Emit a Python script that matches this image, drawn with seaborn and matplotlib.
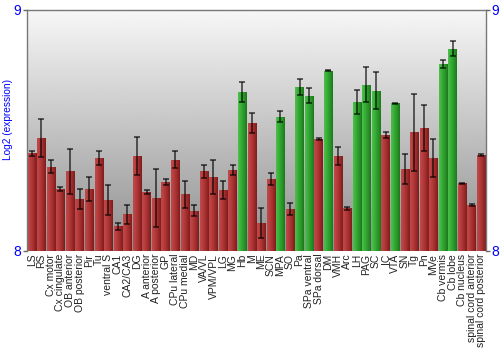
import numpy as np
import pandas as pd
import matplotlib
matplotlib.use("Agg")
import matplotlib.pyplot as plt
import seaborn as sns

regions = ["LS", "RS", "Cx motor", "Cx cingulate", "OB anterior", "OB posterior", "Pir", "Tu",
           "ventral S", "CA1", "CA2/CA3", "DG", "A anterior", "A posterior", "GP", "CPu lateral",
           "CPu medial", "MD", "VA/VL", "VPM/VPL", "LG", "MG", "Hb", "M", "ME", "SCN", "MPA", "SO",
           "Pa", "SPa ventral", "SPa dorsal", "DM", "VMH", "Arc", "LH", "PAG", "SC", "IC", "VTA",
           "SN", "Tg", "Pn", "MVe", "Cb vermis", "Cb lobe", "Cb nucleus", "spinal cord anterior",
           "spinal cord posterior"]
values = [8.404, 8.469, 8.349, 8.256, 8.331, 8.216, 8.257, 8.385,
          8.213, 8.102, 8.152, 8.393, 8.245, 8.219, 8.286, 8.378,
          8.235, 8.167, 8.331, 8.308, 8.253, 8.336, 8.657, 8.530, 8.115, 8.299, 8.556, 8.174,
          8.680, 8.643, 8.462, 8.746, 8.394, 8.176, 8.616, 8.689, 8.664, 8.479, 8.611,
          8.339, 8.491, 8.510, 8.385, 8.773, 8.838, 8.281, 8.190, 8.398]
errors = [0.010, 0.079, 0.026, 0.008, 0.093, 0.041, 0.048, 0.029,
          0.062, 0.015, 0.039, 0.077, 0.009, 0.119, 0.011, 0.035,
          0.055, 0.024, 0.027, 0.070, 0.038, 0.020, 0.041, 0.041, 0.062, 0.026, 0.023, 0.023,
          0.032, 0.032, 0.004, 0.002, 0.037, 0.008, 0.050, 0.073, 0.077, 0.012, 0.003,
          0.063, 0.159, 0.094, 0.077, 0.016, 0.031, 0.002, 0.003, 0.003]
high_regions = ["Hb", "MPA", "Pa", "SPa ventral", "DM", "LH", "PAG", "SC", "VTA", "Cb vermis", "Cb lobe"]
groups = ["high" if r in high_regions else "normal" for r in regions]

df = pd.DataFrame({"region": regions, "value": values, "err": errors, "group": groups})

sns.set_style("white")
plt.rcParams['font.family'] = ['Liberation Sans', 'DejaVu Sans']

fig = plt.figure(figsize=(5, 3.5), dpi=100)
ax = fig.add_axes([27 / 500, 1 - 251 / 350, (486 - 27) / 500, (251 - 9.5) / 350])

palette = {"normal": "#b03535", "high": "#32a532"}
sns.barplot(data=df, x="region", y="value", hue="group", palette=palette, dodge=False,
            width=0.88, legend=False, errorbar=None, ax=ax, order=regions, saturation=1,
            linewidth=0)

ax.set_ylim(8, 9)
ax.set_xlim(-0.5, len(regions) - 0.5)

# background gradient
bg = np.linspace(0.56, 0.97, 256).reshape(-1, 1)
ax.imshow(bg, cmap="gray", vmin=0, vmax=1, aspect="auto", extent=[0, 1, 0, 1],
          transform=ax.transAxes, zorder=0, origin="lower")

# bar gradients
red_cmap = matplotlib.colors.LinearSegmentedColormap.from_list(
    "r", ["#c24a4a", "#b53c3c", "#a02c2c", "#7d1c1c"])
green_cmap = matplotlib.colors.LinearSegmentedColormap.from_list(
    "g", ["#4cc24c", "#38ae38", "#2a962a", "#1c781c"])
grad = np.linspace(0, 1, 64).reshape(1, -1)
for patch in list(ax.patches):
    x0, y0 = patch.get_x(), patch.get_y()
    w, h = patch.get_width(), patch.get_height()
    if not np.isfinite(h) or h == 0:
        continue
    idx = int(round(x0 + w / 2))
    cm = green_cmap if groups[idx] == "high" else red_cmap
    im = ax.imshow(grad, cmap=cm, aspect="auto", extent=[x0, x0 + w, 8, y0 + h],
                   zorder=2, interpolation="bilinear")
    im.set_clip_path(patch)
    patch.set_zorder(1.5)

ax.set_ylim(8, 9)
ax.set_xlim(-0.5, len(regions) - 0.5)

xs = np.arange(len(regions))
ax.errorbar(xs, df["value"], yerr=df["err"], fmt="none", ecolor="black", elinewidth=1.1,
            capsize=2.5, capthick=1.1, alpha=0.75, zorder=3)

ax.set_xlabel("")
ax.set_ylabel("")
fig.text(8.5 / 500, 1 - 120 / 350, "Log2 (expression)", rotation=90, color="blue",
         fontsize=7.3, ha="center", va="center")
ax.set_yticks([8, 9])
ax.set_yticklabels(["8", "9"], color="blue", fontsize=10)
ax.tick_params(axis="y", which="both", left=True, right=True, labelleft=True, labelright=True,
               length=3, width=1, color="#666666", pad=1, direction="out")
ax.tick_params(axis="x", length=0, pad=2)
ax.set_xticks(xs)
ax.set_xticklabels(regions, rotation=90, fontsize=7.5, color="#222222")
for side in ["left", "right", "top"]:
    ax.spines[side].set_color("#777777")
    ax.spines[side].set_linewidth(1)
ax.spines["bottom"].set_visible(False)

fig.savefig("out.png", dpi=100)
